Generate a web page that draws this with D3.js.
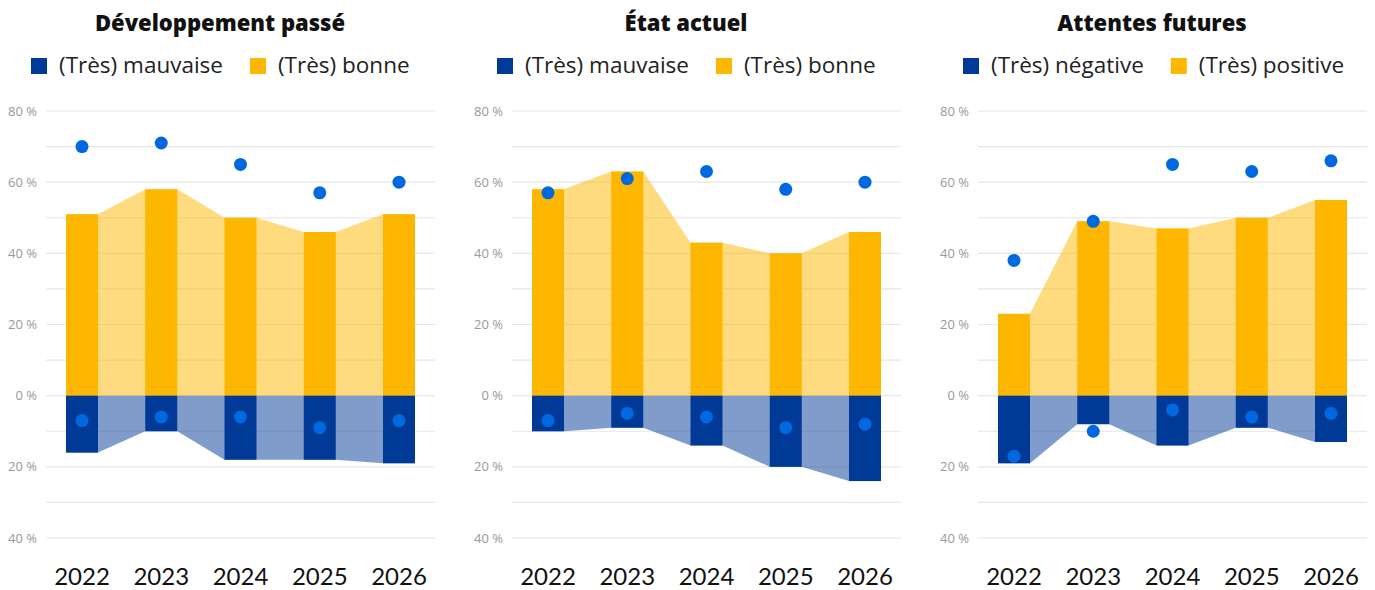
<!DOCTYPE html>
<html>
<head>
<meta charset="utf-8">
<script src="https://cdn.jsdelivr.net/npm/d3@7"></script>
<style>
  body { margin: 0; background: #fff; }
  svg { display: block; font-family: "Open Sans", Lato, sans-serif; }
</style>
</head>
<body>
<svg id="chart"></svg>
<script>
const years = ['2022', '2023', '2024', '2025', '2026'];
const yTicks = [80, 60, 40, 20, 0, -20, -40];

const titles = ['Développement passé', 'État actuel', 'Attentes futures'];
const legendBad = ['(Très) mauvaise', '(Très) mauvaise', '(Très) négative'];
const legendGood = ['(Très) bonne', '(Très) bonne', '(Très) positive'];

// share of answers, bars
const pastGood = [51, 58, 50, 46, 51];
const pastBad = [16, 10, 18, 18, 19];
const nowGood = [58, 63, 43, 40, 46];
const nowBad = [10, 9, 14, 20, 24];
const futureGood = [23, 49, 47, 50, 55];
const futureBad = [19, 8, 14, 9, 13];

// comparison dots
const pastDotGood = [70, 71, 65, 57, 60];
const pastDotBad = [7, 6, 6, 9, 7];
const nowDotGood = [57, 61, 63, 58, 60];
const nowDotBad = [7, 5, 6, 9, 8];
const futureDotGood = [38, 49, 65, 63, 66];
const futureDotBad = [17, 10, 4, 6, 5];

const panels = [
    { good: pastGood, bad: pastBad, dotGood: pastDotGood, dotBad: pastDotBad },
    { good: nowGood, bad: nowBad, dotGood: nowDotGood, dotBad: nowDotBad },
    { good: futureGood, bad: futureBad, dotGood: futureDotGood, dotBad: futureDotBad }
];

const width = 1375, height = 590;
const panelWidth = 466;
const blue = '#003a96', yellow = '#fdb700', dot = '#0069e0';

const svg = d3.select('#chart')
    .attr('width', width)
    .attr('height', height);

const yscale = d3.scaleLinear()
    .domain([-40, 80])
    .range([538, 111]);

const xscale = d3.scalePoint()
    .domain(years)
    .range([82, 399]);

const barWidth = 32;

panels.forEach((p, i) => {
    const g = svg.append('g')
        .attr('transform', `translate(${i * panelWidth}, 0)`);

    // title
    g.append('text')
        .attr('x', 220)
        .attr('y', 31)
        .attr('text-anchor', 'middle')
        .style('font-size', '22px')
        .style('font-weight', 800)
        .style('fill', '#111')
        .text(titles[i]);

    // legend
    const leg = g.append('g').attr('transform', 'translate(31, 58)');
    leg.append('rect').attr('width', 16).attr('height', 16).attr('fill', blue);
    const t1 = leg.append('text')
        .attr('x', 28).attr('y', 15)
        .style('font-size', '22.5px')
        .style('fill', '#222')
        .text(legendBad[i]);
    const w1 = t1.node().getComputedTextLength();
    const leg2 = leg.append('g').attr('transform', `translate(${28 + w1 + 27}, 0)`);
    leg2.append('rect').attr('width', 16).attr('height', 16).attr('fill', yellow);
    leg2.append('text')
        .attr('x', 28).attr('y', 15)
        .style('font-size', '22.5px')
        .style('fill', '#222')
        .text(legendGood[i]);

    // grid
    const grid = d3.range(-40, 81, 10);
    g.append('g')
        .selectAll('line')
        .data(grid)
        .join('line')
        .attr('x1', 46)
        .attr('x2', 435)
        .attr('y1', d => yscale(d))
        .attr('y2', d => yscale(d))
        .attr('stroke', '#e6e6e6')
        .attr('stroke-width', 1.2);

    // y axis labels
    g.append('g')
        .selectAll('text')
        .data(yTicks)
        .join('text')
        .attr('x', 37)
        .attr('y', d => yscale(d))
        .attr('dy', '0.35em')
        .attr('text-anchor', 'end')
        .style('font-size', '13px')
        .style('fill', '#999')
        .text(d => `${Math.abs(d)} %`);

    // areas linking the bars
    const pts = (vals, sign) => years.flatMap((y, k) => [
        [xscale(y) - barWidth / 2, sign * vals[k]],
        [xscale(y) + barWidth / 2, sign * vals[k]]
    ]);
    const area = d3.area()
        .x(d => d[0])
        .y0(yscale(0))
        .y1(d => yscale(d[1]));

    g.append('path')
        .attr('d', area(pts(p.good, 1)))
        .attr('fill', yellow)
        .attr('fill-opacity', 0.5);
    g.append('path')
        .attr('d', area(pts(p.bad, -1)))
        .attr('fill', blue)
        .attr('fill-opacity', 0.5);

    // bars
    g.append('g')
        .selectAll('rect')
        .data(years)
        .join('rect')
        .attr('x', d => xscale(d) - barWidth / 2)
        .attr('width', barWidth)
        .attr('y', (d, k) => yscale(p.good[k]))
        .attr('height', (d, k) => yscale(0) - yscale(p.good[k]))
        .attr('fill', yellow);
    g.append('g')
        .selectAll('rect')
        .data(years)
        .join('rect')
        .attr('x', d => xscale(d) - barWidth / 2)
        .attr('width', barWidth)
        .attr('y', yscale(0))
        .attr('height', (d, k) => yscale(-p.bad[k]) - yscale(0))
        .attr('fill', blue);

    // dots
    g.append('g')
        .selectAll('circle')
        .data(years)
        .join('circle')
        .attr('cx', d => xscale(d))
        .attr('cy', (d, k) => yscale(p.dotGood[k]))
        .attr('r', 6.5)
        .attr('fill', dot);
    g.append('g')
        .selectAll('circle')
        .data(years)
        .join('circle')
        .attr('cx', d => xscale(d))
        .attr('cy', (d, k) => yscale(-p.dotBad[k]))
        .attr('r', 6.5)
        .attr('fill', dot);

    // x labels
    g.append('g')
        .selectAll('text')
        .data(years)
        .join('text')
        .attr('x', d => xscale(d))
        .attr('y', 585)
        .attr('text-anchor', 'middle')
        .style('font-family', 'Lato, sans-serif')
        .style('font-size', '24px')
        .style('fill', '#111')
        .text(d => d);
});
</script>
</body>
</html>
